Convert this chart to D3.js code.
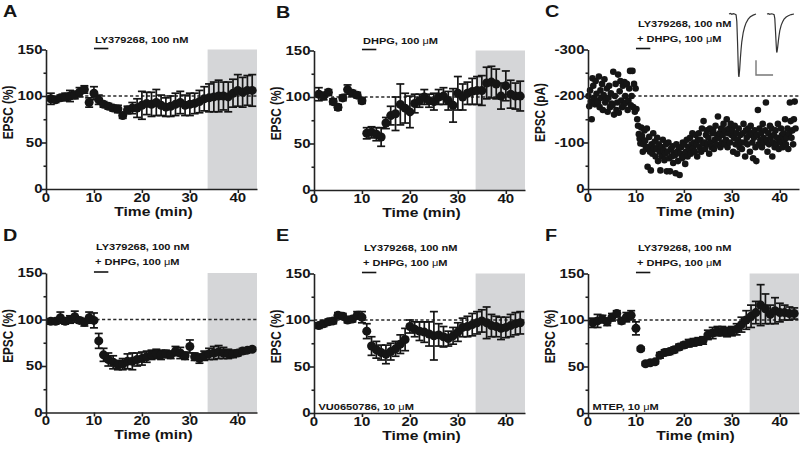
<!DOCTYPE html>
<html><head><meta charset="utf-8">
<script src="https://cdn.jsdelivr.net/npm/d3@7"></script>
<style>body{margin:0;background:#fff}svg{display:block}</style>
</head><body>
<svg id="fig" width="800" height="449"></svg>
<script>
// ---------- DATA ----------
const minutes = [1,2,3,4,5,6,7,8,9,10,11,12,13,14,15,16,17,18,19,20,21,22,23,24,25,26,27,28,29,30,31,32,33,34,35,36,37,38,39,40,41,42,43];

const aMean = [97,96,98,99,100,101,104,107,93,103, 96,91,89,87,86,79,85,87,87,90, 92,91,93,90,88,89,91,93,90,91, 92,94,97,98,99,100,100,99,103,106, 104,106,106];
const aSem  = [6,3,3,4,6,4,5,4,5,7, 5,3,3,3,4,3,4,6,10,15, 12,13,14,11,10,11,12,12,11,12, 11,12,13,15,16,17,15,16,15,17, 16,16,17];

const bMean = [103,101,105,95,89,99,108,104,102,96, 61,62,60,57,72,80,82,92,88,84, 93,96,100,96,95,100,101,96,91,104, 100,104,106,107,107,115,116,114,101,112, 103,101,101];
const bSem  = [7,4,3,3,3,3,5,3,3,3, 6,6,7,10,6,10,18,22,16,17, 10,7,8,7,9,8,9,10,18,18, 14,12,14,15,16,17,17,16,14,16, 15,14,16];

const dMean = [98,98,102,98,100,103,99,97,102,99, 77,62,57,54,51,52,55,55,57,58, 60,62,63,62,63,62,66,64,61,71, 60,58,61,63,64,65,64,63,63,64, 66,67,68];
const dSem  = [3,3,6,3,4,6,3,4,6,8, 8,7,7,7,5,6,8,9,7,7, 6,5,5,5,4,4,5,6,4,7, 4,5,5,6,7,7,6,5,4,3, 3,2,2];

const eMean = [94,96,98,99,105,104,100,101,105,103, 88,72,68,65,63,66,69,74,79,93, 90,88,87,85,83,84,82,80,83,87, 92,93,95,97,99,97,94,93,91,92, 94,96,97];
const eSem  = [3,3,3,3,3,3,3,3,4,6, 8,10,9,8,10,9,8,10,12,7, 8,10,11,13,26,12,11,8,9,10, 10,11,12,12,12,17,12,11,12,11, 12,12,12];

const fMean = [97,99,101,98,103,107,99,103,105,91, 69,53,54,55,62,65,66,68,71,73, 75,76,77,78,84,86,88,88,87,88, 90,95,100,104,108,116,112,106,110,108, 108,107,107];
const fSem  = [5,7,4,4,4,3,3,5,5,7, 2,2,2,2,3,3,3,3,3,3, 4,4,4,4,5,6,5,5,5,5, 6,8,10,12,12,22,16,10,14,10, 8,7,6];

// panel C: single-cell EPSC amplitudes (pA), one row per minute
const cTime = [
 0.1,0.27,0.43,0.6,0.77,0.93, 1.1,1.27,1.43,1.6,1.77,1.93, 2.1,2.27,2.43,2.6,2.77,2.93, 3.1,3.27,3.43,3.6,3.77,3.93,
 4.1,4.27,4.43,4.6,4.77,4.93, 5.1,5.27,5.43,5.6,5.77,5.93, 6.1,6.27,6.43,6.6,6.77,6.93, 7.1,7.27,7.43,7.6,7.77,7.93,
 8.1,8.27,8.43,8.6,8.77,8.93, 9.1,9.27,9.43,9.6,9.77,9.93, 10.1,10.27,10.43,10.6,10.77,10.93, 11.1,11.27,11.43,11.6,11.77,11.93,
 12.1,12.27,12.43,12.6,12.77,12.93, 13.1,13.27,13.43,13.6,13.77,13.93, 14.1,14.27,14.43,14.6,14.77,14.93, 15.1,15.27,15.43,15.6,15.77,15.93,
 16.1,16.27,16.43,16.6,16.77,16.93, 17.1,17.27,17.43,17.6,17.77,17.93, 18.1,18.27,18.43,18.6,18.77,18.93, 19.1,19.27,19.43,19.6,19.77,19.93,
 20.1,20.27,20.43,20.6,20.77,20.93, 21.1,21.27,21.43,21.6,21.77,21.93, 22.1,22.27,22.43,22.6,22.77,22.93, 23.1,23.27,23.43,23.6,23.77,23.93,
 24.1,24.27,24.43,24.6,24.77,24.93, 25.1,25.27,25.43,25.6,25.77,25.93, 26.1,26.27,26.43,26.6,26.77,26.93, 27.1,27.27,27.43,27.6,27.77,27.93,
 28.1,28.27,28.43,28.6,28.77,28.93, 29.1,29.27,29.43,29.6,29.77,29.93, 30.1,30.27,30.43,30.6,30.77,30.93, 31.1,31.27,31.43,31.6,31.77,31.93,
 32.1,32.27,32.43,32.6,32.77,32.93, 33.1,33.27,33.43,33.6,33.77,33.93, 34.1,34.27,34.43,34.6,34.77,34.93, 35.1,35.27,35.43,35.6,35.77,35.93,
 36.1,36.27,36.43,36.6,36.77,36.93, 37.1,37.27,37.43,37.6,37.77,37.93, 38.1,38.27,38.43,38.6,38.77,38.93, 39.1,39.27,39.43,39.6,39.77,39.93,
 40.1,40.27,40.43,40.6,40.77,40.93, 41.1,41.27,41.43,41.6,41.77,41.93, 42.1,42.27,42.43,42.6,42.77,42.93, 43.1,43.27
];
const cAmp = [
 -200,-178,-212,-188,-150,-238, -222,-196,-182,-232,-205,-190, -186,-242,-176,-212,-196,-226, -170,-202,-236,-186,-192,-216,
 -166,-196,-222,-176,-206,-184, -180,-252,-160,-200,-226,-170, -186,-246,-164,-210,-232,-190, -176,-222,-180,-230,-200,-186,
 -226,-170,-190,-216,-254,-180, -200,-254,-176,-226,-166,-216, -172,-150,-136,-118,-108,-98, -132,-114,-80,-96,-126,-104,
 -86,-130,-48,-90,-112,-80, -40,-96,-76,-120,-88,-102, -70,-86,-110,-60,-96,-80, -40,-90,-70,-106,-84,-62,
 -76,-96,-38,-80,-100,-66, -38,-86,-70,-92,-56,-78, -72,-34,-96,-80,-60,-88, -30,-76,-90,-66,-100,-70,
 -96,-54,-80,-106,-70,-90, -86,-110,-76,-96,-120,-88, -100,-80,-116,-96,-70,-106, -120,-90,-106,-80,-130,-98,
 -146,-100,-86,-116,-126,-96, -110,-76,-130,-100,-90,-120, -126,-86,-106,-136,-96,-116, -156,-110,-120,-90,-130,-100,
 -116,-140,-96,-126,-106,-150, -90,-120,-130,-100,-140,-116, -126,-80,-110,-136,-96,-120, -76,-106,-130,-90,-116,-100,
 -86,-120,-140,-100,-70,-126, -110,-96,-130,-116,-80,-136, -120,-100,-66,-110,-126,-90, -60,-116,-170,-96,-130,-106,
 -120,-90,-140,-110,-100,-126, -186,-106,-80,-120,-96,-136, -110,-130,-70,-100,-116,-90, -126,-96,-110,-140,-86,-106,
 -100,-130,-116,-90,-120,-106, -150,-96,-110,-130,-86,-120, -186,-146,-110,-126,-96,-150, -188,-130
];

// panel C inset: example EPSC traces (ms, pA)
const traceTime    = [0,2,4,6,8,10,11,12,13,13.5,14,15,16,17,18,20,22,24,27,30,34,38];
const traceControl = [0,3,-2,2,0,-5,-40,-150,-280,-330,-340,-300,-240,-190,-150,-100,-70,-48,-28,-15,-6,0];
const traceDrug    = [0,2,-2,1,0,-4,-25,-95,-170,-200,-208,-180,-145,-115,-90,-60,-42,-28,-16,-9,-3,0];
const scaleBarPA = 80, scaleBarMs = 24;

const pctTicks = [0,50,100,150], pctMinor = [25,75,125];
const pATicks = [0,-100,-200,-300], pAMinor = [-50,-150,-250];
const timeTicks = [0,10,20,30,40];
const shadeRange = [33.7,44];
const drugBar = [10,13];

// ---------- DRAWING ----------
const svg = d3.select('#fig');
const SX = 1.2;
const FONT = "'Liberation Sans', Arial, Helvetica, sans-serif";
const INK = '#151515';

function addText(g, parts, x, y, size, anchor, rotate) {
  const t = g.append('text')
    .attr('transform', `translate(${x},${y}) scale(${SX},1)${rotate ? ' rotate(-90)' : ''}`)
    .attr('text-anchor', anchor || 'start')
    .style('font-family', FONT).style('font-size', size + 'px').style('font-weight', 'bold')
    .attr('fill', INK);
  if (typeof parts === 'string') t.text(parts);
  else parts.forEach(p => t.append('tspan').text(p[0]).style('font-weight', p[1] ? 'normal' : 'bold'));
  return t;
}

const mu = (pre, post) => [[pre], ['\u03bc', 1], [post]];

const panels = [
  {id:'A', left:46, top:49.5, mean:aMean, sem:aSem, ann:[[['LY379268, 100 nM']]]},
  {id:'B', left:314, top:50.5, mean:bMean, sem:bSem, ann:[mu('DHPG, 100 ', 'M')]},
  {id:'C', left:588, top:49.5, scatter:true},
  {id:'D', left:46, top:273, mean:dMean, sem:dSem, ann:[[['LY379268, 100 nM']], mu('+ DHPG, 100 ', 'M')]},
  {id:'E', left:314, top:273.5, mean:eMean, sem:eSem, ann:[[['LY379268, 100 nM']], mu('+ DHPG, 100 ', 'M')], note: mu('VU0650786, 10 ', 'M')},
  {id:'F', left:588, top:273.5, mean:fMean, sem:fSem, ann:[[['LY379268, 100 nM']], mu('+ DHPG, 100 ', 'M')], note: mu('MTEP, 10 ', 'M')}
];

panels.forEach(p => {
  const g = svg.append('g');
  const x = d3.scaleLinear().domain([0, 44]).range([p.left, p.left + 211]);
  const y = p.scatter
    ? d3.scaleLinear().domain([0, -300]).range([p.top + 139.5, p.top])
    : d3.scaleLinear().domain([0, 150]).range([p.top + 139.5, p.top]);
  const y0 = y(0);
  const yTop = p.scatter ? -300 : 150;

  // shaded analysis window
  if (!p.scatter) {
    g.append('rect')
      .attr('x', x(shadeRange[0])).attr('y', y(yTop))
      .attr('width', x(shadeRange[1]) - x(shadeRange[0])).attr('height', y0 - y(yTop))
      .attr('fill', '#d5d6d8');
  }

  // dashed baseline
  const base = p.scatter ? -200 : 100;
  g.append('line')
    .attr('x1', x(0)).attr('x2', x(44)).attr('y1', y(base)).attr('y2', y(base))
    .attr('stroke', '#2a2a2a').attr('stroke-width', 1.3).attr('stroke-dasharray', '3.2,2.4');

  if (p.scatter) {
    g.append('g').selectAll('circle').data(cAmp).join('circle')
      .attr('cx', (d, i) => x(cTime[i])).attr('cy', d => y(d)).attr('r', 3.3).attr('fill', INK);
  } else {
    const eb = g.append('g').attr('stroke', INK).attr('stroke-width', 1.7);
    p.mean.forEach((m, i) => {
      const t = minutes[i], s = p.sem[i];
      eb.append('line').attr('x1', x(t)).attr('x2', x(t)).attr('y1', y(m - s)).attr('y2', y(m + s));
      eb.append('line').attr('x1', x(t) - 4).attr('x2', x(t) + 4).attr('y1', y(m + s)).attr('y2', y(m + s));
      eb.append('line').attr('x1', x(t) - 4).attr('x2', x(t) + 4).attr('y1', y(m - s)).attr('y2', y(m - s));
    });
    g.append('g').selectAll('circle').data(p.mean).join('circle')
      .attr('cx', (d, i) => x(minutes[i])).attr('cy', d => y(d)).attr('r', 4.5).attr('fill', INK);
  }

  // axes
  const ticks = p.scatter ? pATicks : pctTicks;
  const minor = p.scatter ? pAMinor : pctMinor;
  const ya = g.append('g').attr('transform', `translate(${x(0)},0)`)
    .call(d3.axisLeft(y).tickValues(ticks).tickSize(4).tickSizeOuter(0).tickFormat(''));
  const ym = g.append('g').attr('transform', `translate(${x(0)},0)`)
    .call(d3.axisLeft(y).tickValues(minor).tickSize(2.5).tickSizeOuter(0).tickFormat(''));
  ym.select('.domain').remove();
  const xa = g.append('g').attr('transform', `translate(0,${y0})`)
    .call(d3.axisBottom(x).tickValues(timeTicks).tickSize(4).tickSizeOuter(0).tickFormat(''));
  [ya, ym, xa].forEach(a => {
    a.selectAll('path,line').attr('stroke', '#222').attr('stroke-width', 1.6);
  });

  ticks.forEach(v => addText(g, String(v).replace('\u2212', '-'), x(0) - 3.5, y(v) + 4.4, 12.5, 'end'));
  timeTicks.forEach(v => addText(g, String(v), x(v), y0 + 12.5, 12.5, 'middle'));
  addText(g, 'Time (min)', (x(0) + x(44)) / 2 + 2, y0 + 26.5, 13, 'middle');
  addText(g, p.scatter ? 'EPSC (pA)' : 'EPSC (%)', x(0) - (p.scatter ? 43.5 : 33), p.top + 63, 11.8, 'middle', true);

  // panel letter
  addText(g, p.id, p.left - (p.id === 'B' || p.id === 'E' ? 38 : 43), p.top - 32.5, 16.5, 'start');

  // drug annotation and bar
  const annLines = p.scatter ? [[['LY379268, 100 nM']], mu('+ DHPG, 100 ', 'M')] : p.ann;
  if (annLines.length === 1) {
    addText(g, annLines[0], x(10) + 1, p.top - 6.5, 9.2, 'start');
  } else {
    addText(g, annLines[0], x(10) + 2, p.top - 23, 9.2, 'start');
    addText(g, annLines[1], x(10) + 1, p.top - 8, 9.2, 'start');
  }
  g.append('line').attr('x1', x(drugBar[0])).attr('x2', x(drugBar[1]))
    .attr('y1', p.top - 1).attr('y2', p.top - 1).attr('stroke', INK).attr('stroke-width', 1.6);

  if (p.note) addText(g, p.note, x(0) + 4.5, y0 - 3.5, 9.2, 'start');

  // inset traces for C
  if (p.scatter) {
    const ty = d3.scaleLinear().domain([0, -340]).range([14, 77]);
    const tx1 = d3.scaleLinear().domain([0, 38]).range([729, 756]);
    const tx2 = d3.scaleLinear().domain([0, 38]).range([767, 794]);
    const l1 = d3.line().x((d, i) => tx1(traceTime[i])).y(d => ty(d));
    const l2 = d3.line().x((d, i) => tx2(traceTime[i])).y(d => ty(d));
    g.append('path').attr('d', l1(traceControl)).attr('fill', 'none').attr('stroke', '#333').attr('stroke-width', 1.2);
    g.append('path').attr('d', l2(traceDrug)).attr('fill', 'none').attr('stroke', '#333').attr('stroke-width', 1.2);
    const bx = 756, by = 75;
    const sbx = d3.scaleLinear().domain([0, 38]).range([0, 27]);
    g.append('path')
      .attr('d', `M${bx},${by - (ty(-scaleBarPA) - ty(0))}L${bx},${by}L${bx + sbx(scaleBarMs)},${by}`)
      .attr('fill', 'none').attr('stroke', '#777').attr('stroke-width', 1.4);
  }
});
</script>
</body></html>
